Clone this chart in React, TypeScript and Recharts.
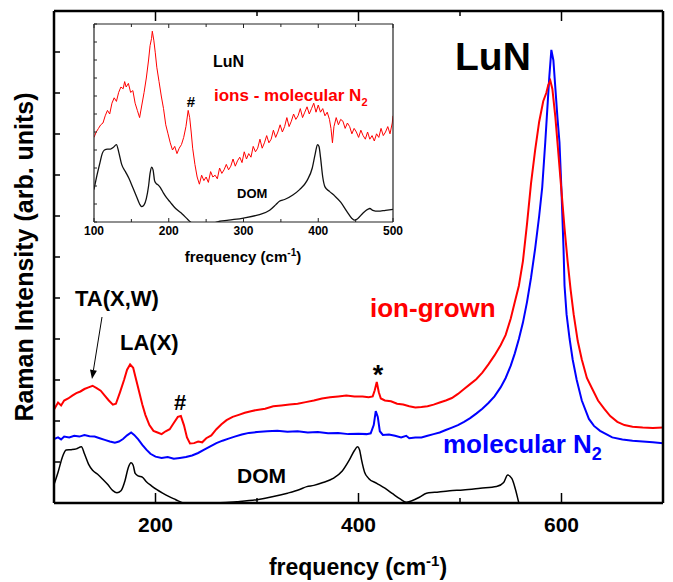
import { Line, LineChart, XAxis, YAxis } from "recharts";

// main panel: frequency (cm-1), intensity (arb. units)
const ionGrown: [number, number][] = [
  [100, 2.28], [104, 2.45], [107, 2.38], [110, 2.5], [114, 2.55], [118, 2.62], [122, 2.68],
  [126, 2.72], [130, 2.78], [134, 2.82], [138, 2.86], [142, 2.8], [146, 2.74], [150, 2.62],
  [154, 2.5], [158, 2.4], [161, 2.42], [165, 2.7], [169, 3.0], [172, 3.25], [175, 3.38],
  [178, 3.3], [181, 3.0], [184, 2.7], [187, 2.4], [190, 2.15], [194, 1.9], [198, 1.76],
  [202, 1.72], [206, 1.68], [210, 1.75], [214, 1.8], [218, 1.95], [222, 2.1], [225, 2.12],
  [228, 1.9], [231, 1.6], [234, 1.45], [238, 1.46], [242, 1.5], [246, 1.48], [250, 1.58],
  [255, 1.65], [260, 1.8], [265, 1.92], [270, 2.02], [276, 2.1], [282, 2.15], [288, 2.2],
  [294, 2.24], [300, 2.27], [308, 2.3], [316, 2.36], [324, 2.38], [332, 2.4], [340, 2.42],
  [348, 2.46], [356, 2.5], [364, 2.55], [372, 2.58], [380, 2.6], [388, 2.62], [396, 2.6],
  [404, 2.6], [410, 2.58], [414, 2.6], [416, 2.75], [418, 2.95], [420, 2.7], [422, 2.55],
  [426, 2.5], [432, 2.48], [438, 2.42], [444, 2.4], [450, 2.36], [456, 2.33], [462, 2.34],
  [468, 2.36], [474, 2.4], [480, 2.45], [486, 2.5], [492, 2.56], [498, 2.66], [504, 2.78],
  [510, 2.9], [516, 3.02], [522, 3.18], [528, 3.38], [534, 3.6], [540, 3.85], [545, 4.1],
  [550, 4.5], [554, 4.9], [558, 5.3], [562, 5.9], [566, 6.8], [570, 7.8], [574, 8.6],
  [578, 9.3], [582, 9.8], [585, 10.0], [587, 10.2], [589, 10.3], [591, 10.1], [594, 9.4],
  [597, 8.5], [600, 7.6], [603, 6.7], [606, 5.9], [609, 5.2], [612, 4.6], [616, 3.95],
  [620, 3.5], [625, 3.05], [630, 2.8], [636, 2.5], [642, 2.3], [648, 2.12], [655, 1.98],
  [662, 1.9], [670, 1.86], [680, 1.84], [690, 1.83], [700, 1.84],
];

const molecularN2: [number, number][] = [
  [100, 1.56], [104, 1.6], [107, 1.55], [110, 1.62], [115, 1.6], [120, 1.64], [125, 1.62],
  [130, 1.66], [135, 1.63], [140, 1.62], [145, 1.58], [150, 1.54], [155, 1.5], [160, 1.47],
  [164, 1.5], [168, 1.56], [172, 1.65], [176, 1.72], [179, 1.66], [183, 1.55], [187, 1.42],
  [191, 1.3], [195, 1.2], [200, 1.13], [206, 1.1], [212, 1.12], [218, 1.08], [224, 1.1],
  [230, 1.12], [236, 1.16], [242, 1.22], [248, 1.3], [254, 1.38], [260, 1.46], [266, 1.52],
  [272, 1.57], [278, 1.62], [285, 1.67], [292, 1.71], [300, 1.73], [310, 1.75], [320, 1.76],
  [330, 1.74], [340, 1.75], [350, 1.72], [360, 1.73], [370, 1.7], [380, 1.71], [390, 1.68],
  [400, 1.69], [408, 1.68], [412, 1.7], [415, 1.9], [417, 2.24], [419, 2.1], [421, 1.75],
  [424, 1.66], [430, 1.67], [436, 1.64], [442, 1.6], [447, 1.64], [450, 1.58], [456, 1.6],
  [462, 1.6], [468, 1.64], [474, 1.68], [480, 1.72], [486, 1.78], [492, 1.84], [498, 1.9],
  [504, 1.98], [510, 2.07], [516, 2.18], [522, 2.3], [528, 2.44], [534, 2.6], [540, 2.82],
  [545, 3.05], [550, 3.35], [554, 3.65], [558, 4.0], [562, 4.4], [566, 4.9], [570, 5.5],
  [574, 6.2], [578, 7.0], [581, 7.7], [584, 8.8], [586, 9.6], [588, 10.4], [590, 11.05],
  [592, 10.8], [594, 10.1], [596, 9.4], [598, 8.8], [600, 7.6], [602, 6.2], [603, 5.3],
  [605, 4.6], [608, 4.0], [611, 3.5], [615, 3.0], [620, 2.5], [627, 2.05], [632, 1.88],
  [638, 1.76], [644, 1.68], [650, 1.6], [660, 1.55], [670, 1.52], [680, 1.5], [690, 1.48],
  [700, 1.46],
];

const dom: [number, number][] = [
  [100, 0.45], [104, 0.75], [108, 1.1], [112, 1.29], [117, 1.3], [122, 1.32], [127, 1.37],
  [130, 1.2], [134, 0.95], [138, 0.8], [143, 0.7], [148, 0.58], [153, 0.45], [158, 0.3],
  [162, 0.25], [166, 0.3], [170, 0.55], [173, 0.85], [176, 0.98], [178, 0.92], [180, 0.72],
  [183, 0.66], [187, 0.63], [191, 0.52], [196, 0.42], [201, 0.33], [207, 0.24], [213, 0.16],
  [220, 0.08], [227, 0], [235, -0.08], [250, -0.12], [262, 0], [280, 0.03], [300, 0.08],
  [315, 0.15], [330, 0.24], [342, 0.33], [349, 0.4], [356, 0.43], [365, 0.5], [375, 0.6],
  [384, 0.78], [391, 1.05], [396, 1.28], [399, 1.37], [401, 1.3], [403, 1.05], [406, 0.75],
  [410, 0.6], [418, 0.48], [426, 0.36], [434, 0.22], [441, 0.1], [447, 0.02], [452, 0.05],
  [460, 0.14], [467, 0.24], [475, 0.26], [490, 0.3], [503, 0.32], [520, 0.36], [536, 0.4],
  [543, 0.5], [547, 0.68], [551, 0.6], [555, 0.3], [558, 0], [562, -0.3],
];

// inset panel
const ionsMinusMolecular: [number, number][] = [
  [100, 4.7], [103, 5.0], [106, 5.2], [109, 5.4], [112, 5.5], [115, 5.9], [118, 6.2],
  [121, 6.0], [124, 6.6], [127, 6.9], [130, 6.7], [133, 7.2], [136, 7.5], [139, 7.4],
  [141, 7.8], [143, 7.5], [146, 7.7], [149, 7.2], [152, 7.3], [155, 6.6], [158, 6.2],
  [161, 5.8], [164, 6.5], [167, 7.2], [170, 8.0], [173, 9.0], [175, 9.8], [177, 10.2],
  [178, 10.6], [180, 10.1], [182, 9.4], [184, 8.6], [187, 7.8], [190, 7.0], [193, 6.3],
  [196, 5.4], [199, 4.9], [202, 4.4], [205, 4.0], [208, 4.2], [211, 3.8], [214, 4.1],
  [217, 4.3], [220, 4.7], [223, 5.3], [226, 6.2], [228, 5.8], [230, 5.0], [232, 4.1],
  [235, 3.2], [238, 2.5], [241, 2.1], [244, 2.6], [247, 2.3], [250, 2.5], [253, 2.2],
  [256, 2.8], [259, 2.5], [262, 2.6], [265, 2.4], [268, 3.0], [271, 2.7], [274, 2.9],
  [277, 3.2], [280, 2.9], [283, 3.1], [286, 3.5], [289, 3.1], [292, 3.4], [295, 3.6],
  [298, 3.3], [301, 3.9], [304, 3.5], [307, 3.8], [310, 3.6], [313, 4.2], [316, 3.9],
  [319, 4.1], [322, 4.6], [325, 4.1], [328, 4.4], [331, 4.8], [334, 4.4], [337, 4.6],
  [340, 5.1], [343, 4.7], [346, 5.0], [349, 5.4], [352, 5.0], [355, 5.3], [358, 5.8],
  [361, 5.3], [364, 5.6], [367, 6.0], [370, 5.7], [373, 5.9], [376, 6.3], [379, 5.8],
  [382, 6.1], [385, 6.4], [388, 6.0], [391, 6.3], [394, 6.6], [397, 6.1], [400, 6.5],
  [403, 6.1], [406, 6.3], [409, 5.9], [412, 6.1], [415, 5.7], [417, 5.2], [419, 4.4],
  [421, 5.3], [424, 5.8], [427, 5.4], [430, 5.7], [433, 5.6], [436, 5.2], [439, 5.5],
  [442, 5.3], [445, 4.9], [448, 5.2], [451, 5.0], [454, 4.7], [457, 5.1], [460, 4.8],
  [463, 4.6], [466, 5.0], [469, 4.6], [472, 4.8], [475, 4.5], [478, 4.9], [481, 4.7],
  [484, 5.2], [487, 4.8], [490, 5.0], [493, 5.3], [496, 4.9], [499, 5.5], [500, 5.9],
];

const insetDom: [number, number][] = [
  [100, 1.8], [104, 2.6], [108, 3.3], [111, 3.8], [114, 4.0], [118, 4.05], [122, 4.05],
  [126, 4.15], [130, 4.3], [133, 3.9], [137, 3.2], [142, 2.8], [147, 2.4], [152, 1.9],
  [157, 1.4], [161, 1.0], [164, 0.85], [167, 0.95], [170, 1.3], [173, 2.0], [175, 2.7],
  [177, 3.05], [179, 2.9], [181, 2.3], [183, 2.15], [186, 2.05], [189, 1.9], [193, 1.6],
  [197, 1.35], [202, 1.1], [207, 0.85], [212, 0.65], [218, 0.45], [224, 0.2], [229, 0],
  [235, -0.2], [250, -0.3], [264, 0], [280, 0.1], [300, 0.22], [320, 0.4], [335, 0.65],
  [343, 0.95], [348, 1.15], [355, 1.25], [366, 1.5], [375, 1.8], [385, 2.3], [392, 3.0],
  [396, 3.8], [399, 4.3], [401, 4.2], [403, 3.6], [406, 2.5], [409, 1.95], [415, 1.7],
  [422, 1.45], [430, 1.1], [438, 0.6], [445, 0.2], [449, 0.1], [453, 0.2], [460, 0.5],
  [466, 0.7], [469, 0.75], [473, 0.65], [480, 0.6], [490, 0.65], [500, 0.7],
];

const mainXTicks = [200, 300, 400, 500, 600];
const mainXLabels = [200, 400, 600];
const mainYTicks = [0, 1, 2, 3, 4, 5, 6, 7, 8, 9, 10, 11, 12];
const insetXTicks = [100, 150, 200, 250, 300, 350, 400, 450, 500];
const insetXLabels = [100, 200, 300, 400, 500];
const insetYTicks = [0, 1, 2, 3, 4, 5, 6, 7, 8, 9, 10, 11];

const FONT = "'Liberation Sans', Arial, sans-serif";
const toRows = (pts: [number, number][]) => pts.map(([f, v]) => ({ f, v }));

type Side = "top" | "bottom" | "left" | "right";

// ticks point inward; labels only on the bottom axis
function tickRenderer(side: Side, major: number[], majorLen: number, minorLen: number,
  stroke: string, width: number, label?: { dy: number; size: number }) {
  return (props: any) => {
    const { x, y, payload } = props;
    const v = payload.value;
    const isMajor = major.includes(v);
    const len = isMajor ? majorLen : minorLen;
    let p = { x1: x, y1: y, x2: x, y2: y };
    if (side === "bottom") p = { ...p, y2: y - len };
    if (side === "top") p = { ...p, y2: y + len };
    if (side === "left") p = { ...p, x2: x + len };
    if (side === "right") p = { ...p, x2: x - len };
    return (
      <g>
        <line {...p} stroke={stroke} strokeWidth={width} />
        {label && isMajor ? (
          <text x={x} y={y + label.dy} textAnchor="middle" fontFamily={FONT} fontWeight="bold"
            fontSize={label.size} fill="#000">{v}</text>
        ) : null}
      </g>
    );
  };
}

function Arrow({ x1, y1, x2, y2 }: { x1: number; y1: number; x2: number; y2: number }) {
  const dx = x2 - x1, dy = y2 - y1, l = Math.hypot(dx, dy);
  const ux = dx / l, uy = dy / l;
  const bx = x2 - ux * 9, by = y2 - uy * 9;
  const pts = `${x2},${y2} ${bx + uy * 3.5},${by - ux * 3.5} ${bx - uy * 3.5},${by + ux * 3.5}`;
  return (
    <g>
      <line x1={x1} y1={y1} x2={bx} y2={by} stroke="#000" strokeWidth={1} />
      <polygon points={pts} fill="#000" />
    </g>
  );
}

export default function App() {
  const axisMain = { stroke: "#000", strokeWidth: 2.5 };
  const axisInset = { stroke: "#222", strokeWidth: 1.2 };
  return (
    <div style={{ position: "absolute", left: 0, top: 0, width: 673, height: 582, background: "#fff" }}>
      <LineChart width={673} height={582} margin={{ top: 0, right: 0, bottom: 0, left: 0 }}>
        <XAxis dataKey="f" type="number" domain={[100, 700]} allowDataOverflow ticks={mainXTicks}
          interval={0} height={79} axisLine={axisMain} tickLine={false} tickSize={0} tickMargin={0}
          tick={tickRenderer("bottom", mainXLabels, 10, 5, "#000", 1.5, { dy: 29, size: 21 })} />
        <XAxis xAxisId="top" orientation="top" dataKey="f" type="number" domain={[100, 700]}
          allowDataOverflow ticks={mainXTicks} interval={0} height={11} axisLine={axisMain}
          tickLine={false} tickSize={0} tickMargin={0}
          tick={tickRenderer("top", mainXLabels, 10, 5, "#000", 1.5)} />
        <YAxis type="number" domain={[0, 12]} allowDataOverflow ticks={mainYTicks} interval={0}
          width={54} axisLine={axisMain} tickLine={false} tickSize={0} tickMargin={0}
          tick={tickRenderer("left", mainYTicks, 6, 6, "#000", 1.5)} />
        <YAxis yAxisId="right" orientation="right" type="number" domain={[0, 12]} ticks={mainYTicks}
          interval={0} width={10} axisLine={axisMain} tickLine={false} tickSize={0} tickMargin={0}
          tick={tickRenderer("right", mainYTicks, 7, 7, "#000", 1.5)} />
        <Line data={toRows(dom)} dataKey="v" type="monotone" stroke="#000" strokeWidth={1.5}
          dot={false} isAnimationActive={false} />
        <Line data={toRows(molecularN2)} dataKey="v" type="linear" stroke="#0000ff" strokeWidth={2}
          dot={false} isAnimationActive={false} />
        <Line data={toRows(ionGrown)} dataKey="v" type="linear" stroke="#ff0000" strokeWidth={2}
          dot={false} isAnimationActive={false} />
      </LineChart>

      <div style={{ position: "absolute", left: 60, top: 10 }}>
        <LineChart width={400} height={270} margin={{ top: 0, right: 0, bottom: 0, left: 0 }}>
          <XAxis dataKey="f" type="number" domain={[100, 500]} allowDataOverflow ticks={insetXTicks}
            interval={0} height={58} axisLine={axisInset} tickLine={false} tickSize={0} tickMargin={0}
            tick={tickRenderer("bottom", insetXLabels, 4, 3, "#222", 1, { dy: 13, size: 12 })} />
          <XAxis xAxisId="top" orientation="top" dataKey="f" type="number" domain={[100, 500]}
            allowDataOverflow ticks={insetXTicks} interval={0} height={14} axisLine={axisInset}
            tickLine={false} tickSize={0} tickMargin={0}
            tick={tickRenderer("top", insetXLabels, 4, 3, "#222", 1)} />
          <YAxis type="number" domain={[0, 11]} allowDataOverflow ticks={insetYTicks} interval={0}
            width={34} axisLine={axisInset} tickLine={false} tickSize={0} tickMargin={0}
            tick={tickRenderer("left", insetYTicks, 3, 3, "#222", 1)} />
          <YAxis yAxisId="right" orientation="right" type="number" domain={[0, 11]} ticks={insetYTicks}
            interval={0} width={67} axisLine={axisInset} tickLine={false} tickSize={0} tickMargin={0}
            tick={tickRenderer("right", insetYTicks, 3, 3, "#222", 1)} />
          <Line data={toRows(insetDom)} dataKey="v" type="monotone" stroke="#111" strokeWidth={1.3}
            dot={false} isAnimationActive={false} />
          <Line data={toRows(ionsMinusMolecular)} dataKey="v" type="linear" stroke="#ff0000"
            strokeWidth={1} dot={false} isAnimationActive={false} />
        </LineChart>
      </div>

      <svg width={673} height={582} style={{ position: "absolute", left: 0, top: 0, pointerEvents: "none" }}
        fontFamily={FONT} fontWeight="bold">
        <text x={358} y={575} fontSize={23} textAnchor="middle">
          frequency (cm<tspan dy={-9} fontSize={15}>-1</tspan><tspan dy={9}>)</tspan>
        </text>
        <text x={33} y={257} fontSize={25} textAnchor="middle" transform="rotate(-90 33 257)">
          Raman Intensity (arb. units)
        </text>
        <text x={455} y={70} fontSize={39}>LuN</text>
        <text x={75} y={306} fontSize={22}>TA(X,W)</text>
        <text x={120} y={350} fontSize={22}>LA(X)</text>
        <Arrow x1={102} y1={317} x2={92} y2={379} />
        <text x={180} y={410} fontSize={22} textAnchor="middle">#</text>
        <text x={237} y={483} fontSize={21}>DOM</text>
        <text x={378} y={384} fontSize={27} textAnchor="middle">*</text>
        <text x={370} y={317} fontSize={26} fill="#ff0000">ion-grown</text>
        <text x={443} y={453} fontSize={26} fill="#0000ff">
          molecular N<tspan dy={7} fontSize={18}>2</tspan>
        </text>

        <text x={213} y={67} fontSize={16}>LuN</text>
        <text x={214} y={101} fontSize={17} fill="#ff0000">
          ions - molecular  N<tspan dy={5} fontSize={11}>2</tspan>
        </text>
        <text x={191} y={107} fontSize={15} textAnchor="middle">#</text>
        <text x={237} y={198} fontSize={13}>DOM</text>
        <text x={243} y={262} fontSize={15} textAnchor="middle">
          frequency (cm<tspan dy={-6} fontSize={10}>-1</tspan><tspan dy={6}>)</tspan>
        </text>
      </svg>
    </div>
  );
}
